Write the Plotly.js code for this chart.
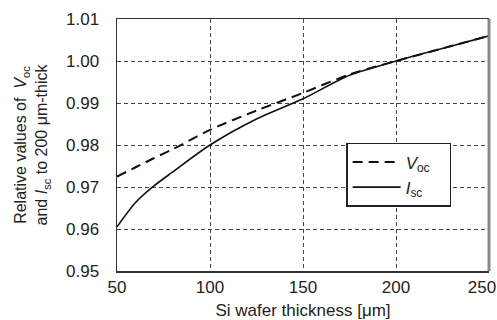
<!DOCTYPE html>
<html><head><meta charset="utf-8">
<script src="https://cdn.plot.ly/plotly-3.0.1.min.js"></script>
<style>html,body{margin:0;padding:0;background:#fff}</style>
</head><body><div id="chart" style="width:497px;height:320px"></div>
<script>
var thickness = [50, 60, 70, 80, 100, 125, 150, 175, 200, 225, 250];
var vocValues = [0.9725, 0.9747, 0.9769, 0.9790, 0.9836, 0.9882, 0.9924, 0.9968, 1.0000, 1.0030, 1.0060];
var iscValues = [0.9605, 0.9663, 0.9703, 0.9736, 0.9800, 0.9862, 0.9910, 0.9966, 1.0000, 1.0030, 1.0060];
var xTicks = [50, 100, 150, 200, 250];
var xTickText = ["50", "100", "150", "200", "250&nbsp;&nbsp;&nbsp;"];
var yTicks = [0.95, 0.96, 0.97, 0.98, 0.99, 1.00, 1.01];
var yTickText = ["0.95", "0.96", "0.97", "0.98", "0.99", "1.00", "1.01"];

var font = "Liberation Sans, Arial, sans-serif";
var data = [
  {x: thickness, y: vocValues, mode: "lines", name: "<i>V</i><sub>oc</sub>&nbsp;&nbsp;&nbsp;",
   line: {color: "#111", width: 2, dash: "10px,6px", shape: "spline", smoothing: 0.8}},
  {x: thickness, y: iscValues, mode: "lines", name: "<i>I</i><sub>sc</sub>",
   line: {color: "#111", width: 1.6, shape: "spline", smoothing: 0.8}}
];
var layout = {
  width: 497, height: 320,
  margin: {l: 117, r: 8, t: 19, b: 49},
  paper_bgcolor: "#fff", plot_bgcolor: "#fff",
  font: {family: font, size: 16, color: "#222"},
  showlegend: true,
  legend: {x: 0.616, y: 0.508, xanchor: "left", yanchor: "top",
    bordercolor: "#222", borderwidth: 1.5, bgcolor: "#fff",
    itemwidth: 48,
    font: {family: font, size: 17, color: "#222"}, tracegroupgap: 0},
  xaxis: {range: [50, 250], tickvals: xTicks, ticktext: xTickText, ticks: "", ticklabelstandoff: 0,
    ticklabeloverflow: "allow",
    tickfont: {size: 17},
    showgrid: true, gridcolor: "#444", griddash: "4px,3px", gridwidth: 1,
    showline: true, linecolor: "#333", linewidth: 1.5, mirror: true, zeroline: false,
    title: {text: "Si wafer thickness [μm]", font: {size: 17}, standoff: 10}},
  yaxis: {range: [0.95, 1.01], tickvals: yTicks, ticktext: yTickText, ticks: "", ticklabelstandoff: 13,
    showgrid: true, gridcolor: "#444", griddash: "4px,3px", gridwidth: 1,
    showline: true, linecolor: "#333", linewidth: 1.5, zeroline: false,
    tickfont: {size: 17},
    title: {text: "Relative values of  <i>V</i><sub>oc</sub><br>and <i>I</i><sub>sc</sub> to 200 μm-thick", font: {size: 16}, standoff: 14}},
  shapes: [{type: "line", xref: "paper", yref: "paper", x0: 1.0, x1: 1.0, y0: 0, y1: 1,
    line: {color: "#888", width: 3}}]
};
Plotly.newPlot("chart", data, layout, {staticPlot: true});
</script></body></html>
